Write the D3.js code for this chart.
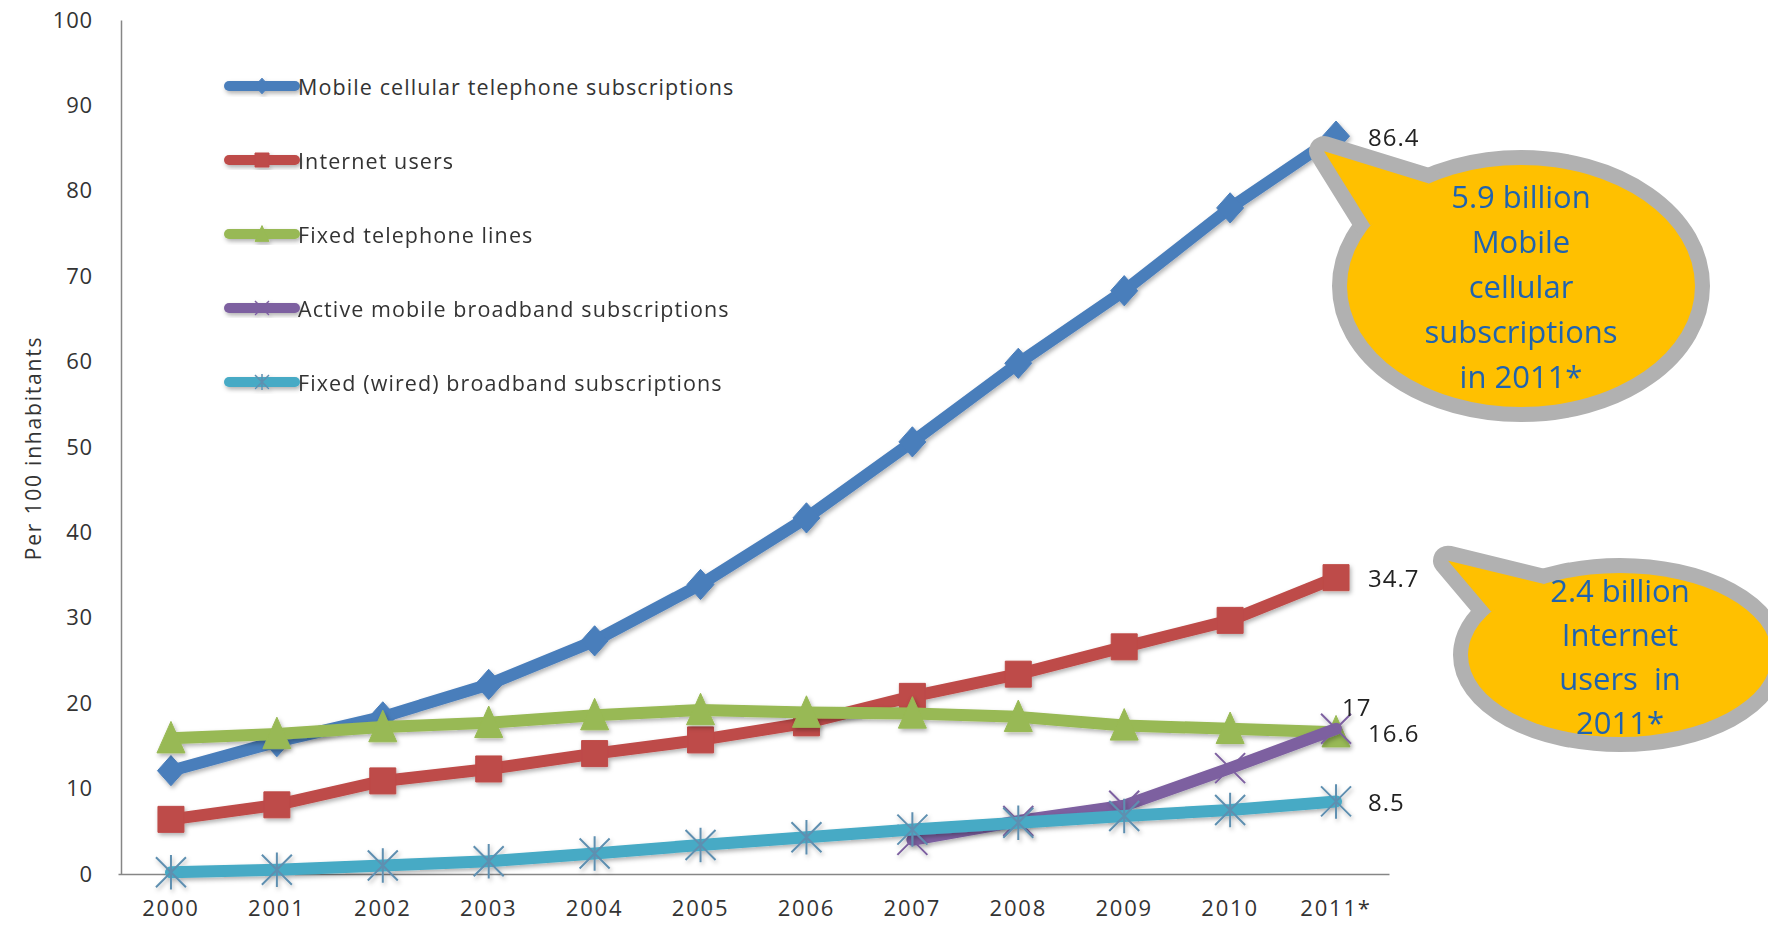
<!DOCTYPE html>
<html><head><meta charset="utf-8">
<script src="https://cdn.jsdelivr.net/npm/d3@7"></script>
<style>body{margin:0;background:#fff;} svg{display:block;font-family:'Open Sans',sans-serif;}</style>
</head><body><svg id="chart" width="1768" height="927"></svg>
<script>
const years = ["2000","2001","2002","2003","2004","2005","2006","2007","2008","2009","2010","2011*"];
const mobileCellular = [12.1,15.5,18.4,22.2,27.3,33.9,41.7,50.6,59.8,68.3,78.0,86.4];
const internetUsers = [6.4,8.1,10.9,12.3,14.1,15.7,17.7,20.8,23.4,26.6,29.7,34.7];
const fixedTelephone = [15.9,16.4,17.2,17.7,18.6,19.2,18.9,18.8,18.4,17.4,17.0,16.6];
const activeMobileBroadband = [null,null,null,null,null,null,null,4.0,6.2,8.0,12.4,17.0];
const fixedBroadband = [0.2,0.5,1.0,1.5,2.4,3.4,4.3,5.2,6.0,6.8,7.5,8.5];
const yTicks = [0,10,20,30,40,50,60,70,80,90,100];
const seriesNames = ["Mobile cellular telephone subscriptions","Internet users","Fixed telephone lines","Active mobile broadband subscriptions","Fixed (wired) broadband subscriptions"];
const endLabels = ["86.4","34.7","16.6","17","8.5"];
const yTitle = "Per 100 inhabitants";
const callout1Lines = ["5.9 billion","Mobile","cellular","subscriptions","in 2011*"];
const callout2Lines = ["2.4 billion","Internet","users  in","2011*"];

const colors = ["#4A7EBB","#BE4B48","#98B954","#7D60A0","#46AAC5"];
const markerStroke = ["#4A7EBB","#BE4B48","#98B954","#7D60A0","#5E8FB0"];
const markerTypes = ["diamond","square","triangle","x","star"];
const series = [mobileCellular, internetUsers, fixedTelephone, activeMobileBroadband, fixedBroadband];

const svg = d3.select("#chart");
const defs = svg.append("defs");
const f = defs.append("filter").attr("id","sh").attr("x","-20%").attr("y","-20%").attr("width","140%").attr("height","140%");
f.append("feDropShadow").attr("dx",1.5).attr("dy",2.5).attr("stdDeviation",2).attr("flood-color","#000").attr("flood-opacity",0.3);

const x = d3.scaleBand().domain(years).range([118, 1389]).padding(0);
const xc = d => x(d) + x.bandwidth()/2;
const y = d3.scaleLinear().domain([0,100]).range([874, 20]);

// axes
const gy = svg.append("g").attr("transform","translate(121,0)")
  .call(d3.axisLeft(y).tickValues(yTicks).tickSize(0).tickPadding(28));
gy.select(".domain").attr("stroke","#868686").attr("stroke-width",1.5);
gy.selectAll("text").attr("font-size",22).attr("fill","#333").attr("letter-spacing","0.8px").attr("font-family","'Open Sans',sans-serif");

const gx = svg.append("g").attr("transform","translate(0,874)")
  .call(d3.axisBottom(x).tickSize(0).tickPadding(26));
gx.select(".domain").attr("stroke","#868686").attr("stroke-width",1.5);
gx.selectAll("text").attr("font-size",22).attr("fill","#333").attr("letter-spacing","1.8px").attr("font-family","'Open Sans',sans-serif");

svg.append("text").attr("transform","translate(33,448) rotate(-90)")
  .attr("text-anchor","middle").attr("dominant-baseline","central").attr("font-size",21).attr("fill","#333").attr("letter-spacing","1.8px").text(yTitle);

function markerPath(type, s){
  switch(type){
    case "diamond": return `M0,${-s*1.12}L${s},0L0,${s*1.12}L${-s},0Z`;
    case "square": return `M${-s},${-s}H${s}V${s}H${-s}Z`;
    case "triangle": return `M0,${-s*1.2}L${s},${s*1.05}L${-s},${s*1.05}Z`;
    case "x": return `M${-s},${-s}L${s},${s}M${-s},${s}L${s},${-s}`;
    case "star": return `M${-s},${-s}L${s},${s}M${-s},${s}L${s},${-s}M0,${-s*1.15}V${s*1.15}`;
  }
}
const markerSize = [13.5,13,14,15,15];

const line = d3.line().defined(d => d.v != null).x(d => xc(d.c)).y(d => y(d.v));

series.forEach((vals, i) => {
  const data = years.map((c,j) => ({c, v: vals[j]}));
  const g = svg.append("g").attr("filter","url(#sh)");
  g.append("path").datum(data).attr("d", line).attr("fill","none")
    .attr("stroke", colors[i]).attr("stroke-width",12).attr("stroke-linejoin","round").attr("stroke-linecap","round");
  const stroked = markerTypes[i] === "x" || markerTypes[i] === "star";
  g.selectAll("path.m").data(data.filter(d => d.v != null)).join("path").attr("class","m")
    .attr("transform", d => `translate(${xc(d.c)},${y(d.v)})`)
    .attr("d", markerPath(markerTypes[i], markerSize[i]))
    .attr("fill", stroked ? "none" : colors[i])
    .attr("stroke", markerStroke[i]).attr("stroke-width", stroked ? 2 : 1);
});

// end labels
const last = years[years.length-1];
[0,1,2,3,4].forEach(i => {
  const v = series[i][series[i].length-1];
  const isPurple = i === 3;
  svg.append("text")
    .attr("x", xc(last) + (isPurple ? 6 : 32))
    .attr("y", y(v) + (isPurple ? -22 : 0))
    .attr("dominant-baseline","central")
    .attr("font-size",24).attr("fill","#222").attr("letter-spacing","1px")
    .text(endLabels[i]);
});

// legend
const lg = svg.append("g");
seriesNames.forEach((name,i) => {
  const ly = 86 + i*74;
  const g = lg.append("g").attr("filter","url(#sh)");
  g.append("line").attr("x1",229).attr("x2",295).attr("y1",ly).attr("y2",ly)
    .attr("stroke",colors[i]).attr("stroke-width",10).attr("stroke-linecap","round");
  const stroked = markerTypes[i] === "x" || markerTypes[i] === "star";
  g.append("path").attr("transform",`translate(262,${ly})`).attr("d", markerPath(markerTypes[i], 7))
    .attr("fill", stroked ? "none" : colors[i]).attr("stroke", markerStroke[i]).attr("stroke-width", stroked?1.5:1);
  lg.append("text").attr("x",298).attr("y",ly).attr("dominant-baseline","central")
    .attr("font-size",21.5).attr("fill","#333").attr("letter-spacing","1.1px").text(name);
});

// callouts
function callout(cx, cy, rx, ry, tip, a1, a2, lines, textY, lineH){
  const g = svg.append("g");
  const p = a => [cx + rx*Math.cos(a*Math.PI/180), cy + ry*Math.sin(a*Math.PI/180)];
  const p1 = p(a1), p2 = p(a2);
  const wedge = `M${p1[0]},${p1[1]}L${tip[0]},${tip[1]}L${p2[0]},${p2[1]}Z`;
  const border = "#B1B1B1", fill = "#FFC000";
  g.append("ellipse").attr("cx",cx).attr("cy",cy).attr("rx",rx).attr("ry",ry)
    .attr("fill",border).attr("stroke",border).attr("stroke-width",30);
  g.append("path").attr("d",wedge).attr("fill",border).attr("stroke",border).attr("stroke-width",30).attr("stroke-linejoin","round");
  g.append("ellipse").attr("cx",cx).attr("cy",cy).attr("rx",rx).attr("ry",ry).attr("fill",fill);
  g.append("path").attr("d",wedge).attr("fill",fill);
  const t = g.append("text").attr("text-anchor","middle").attr("font-size",31).attr("fill","#1F63B0")
    .style("white-space","pre").attr("xml:space","preserve");
  lines.forEach((l,k) => t.append("tspan").attr("x",cx).attr("y",textY + k*lineH).text(l));
}
callout(1521, 286, 174, 121, [xc(last)-12, y(86.4)+15], -122, -150, callout1Lines, 208, 45);
callout(1620, 655, 152, 82, [xc(last)+112, y(34.7)-17], -120, -148, callout2Lines, 602, 44);
</script></body></html>
